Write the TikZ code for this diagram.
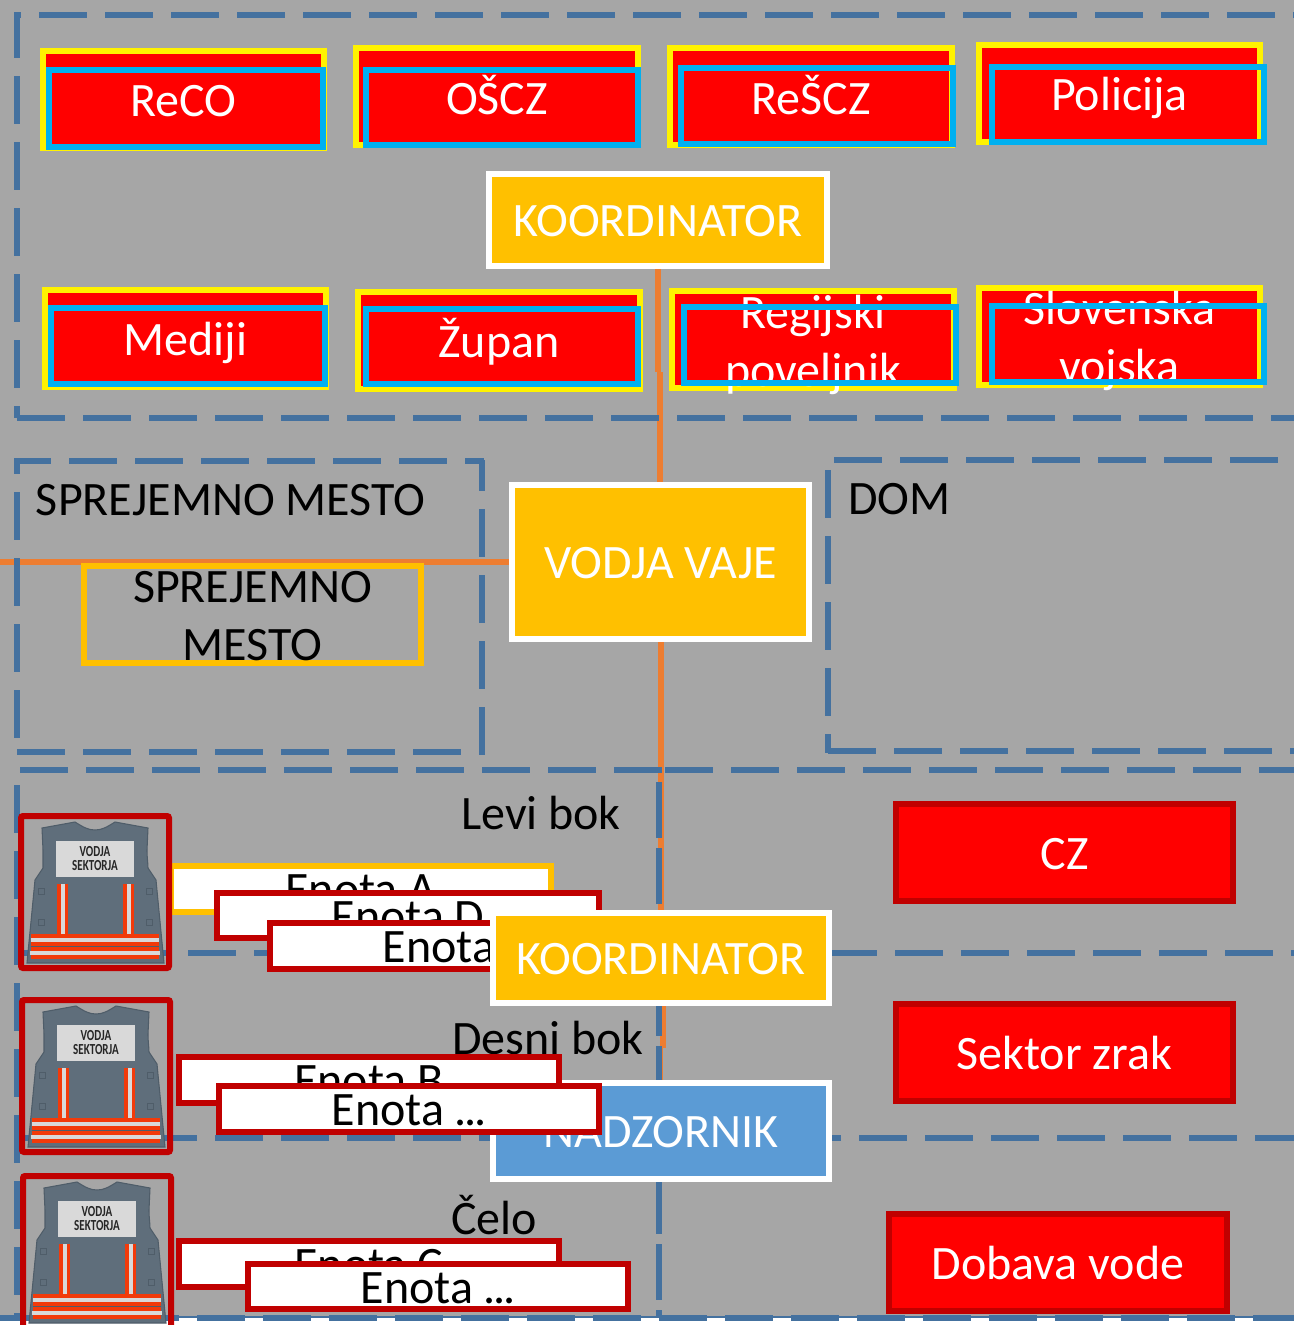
\documentclass[tikz,border=0pt]{standalone}
\usepackage{fontspec}
\setmainfont{Carlito}
\pgfdeclarelayer{back}
\pgfsetlayers{back,main}
\definecolor{bgc}{HTML}{A6A6A6}
\definecolor{dashc}{HTML}{44719F}
\definecolor{linec}{HTML}{ED7D31}
\definecolor{amber}{HTML}{FFC000}
\definecolor{sky}{HTML}{00B0F0}
\definecolor{dkred}{HTML}{C00000}
\definecolor{nadz}{HTML}{5B9BD5}
\definecolor{vestc}{HTML}{5F6E7B}
\definecolor{vestl}{HTML}{4F5D69}
\definecolor{silver}{HTML}{D9D9D9}
\definecolor{strip}{HTML}{F23A0A}
\newcommand{\st}{\vrule height 28pt depth 3pt width 0pt\relax}
\newcommand{\sd}{\vrule height 34pt depth 9pt width 0pt\relax}
\newcommand{\lbl}{\fontsize{36}{43.5}\selectfont}
\newcommand{\edots}{.\kern-1.9pt.\kern-1.9pt.}
% name, style, x1, y1, x2, y2 (outer edges, pixels), text
\newcommand{\bx}[7]{\node[#2, minimum width={(#5-#3-6)*0.75pt}, minimum height={(#6-#4-6)*0.75pt}] (#1) at ({(#3+#5)/2},{(#4+#6)/2}) {#7};}
\tikzset{
  x=0.75pt, y=-0.75pt,
  base/.style={inner sep=0pt, outer sep=0pt, line width=4.5pt, align=center, font=\lbl},
  yred/.style={base, draw=yellow, fill=red, text=white},
  blueline/.style={base, draw=sky},
  amberbox/.style={base, draw=white, fill=amber, text=white},
  nadzbox/.style={base, draw=white, fill=nadz, text=white},
  redbox/.style={base, draw=dkred, fill=red, text=white},
  enota/.style={base, draw=dkred, fill=white, text=black},
  enotaa/.style={base, draw=amber, fill=white, text=black},
  framebox/.style={base, draw=dkred, rounded corners=1.5pt},
  sprej/.style={base, draw=amber, text=black},
  lab/.style={inner sep=0pt, outer sep=0pt, font=\lbl, text=black, align=center},
  wlab/.style={lab, text=white},
  zone/.style={draw=dashc, line width=4.5pt, dash pattern=on 36pt off 13.5pt},
  zonev/.style={draw=dashc, line width=4.5pt, dash pattern=on 42pt off 7.5pt},
  conn/.style={draw=linec, line width=4.5pt},
  vest/.pic={
    \fill[vestc,draw=vestl,line width=0.8pt] (57,9) .. controls (65,14) and (70,17) .. (77,17) .. controls (84,17) and (89,14) .. (97,9) -- (130,15) -- (129,37) .. controls (129,45) and (130,50) .. (130,55) -- (138,67) -- (146,150) -- (9,150) -- (17,67) -- (25,55) .. controls (25,50) and (25,45) .. (25,37) -- (24,15) -- cycle;
    \fill[silver] (38,28) rectangle (116,64);
    \node[inner sep=0pt,font={\fontsize{11.5}{10.5}\selectfont\bfseries},align=center,text=black!85,xscale=0.72] at (77,46) {VODJA\\SEKTORJA};
    \foreach \a in {39,105} {
      \fill[strip] (\a,71) rectangle ++(11,51);
      \fill[silver] (\a+3.5,71) rectangle ++(4,51);
    }
    \foreach \a in {23,131} \foreach \b in {78,109}
      \draw[vestl,line width=0.5pt] (\a-3,\b-3) rectangle ++(6,6);
    \fill[strip] (13,121) rectangle (141,146);
    \fill[silver] (13,125) rectangle (141,129);
    \fill[vestl] (13,133) rectangle (141,134);
    \fill[silver] (12,138) rectangle (142,142);
  }
}
\begin{document}
\begin{tikzpicture}
\useasboundingbox (0,0) rectangle (1294,1325);
% top row
\bx{reco}{yred}{40}{48}{327}{151}{\st ReCO}
\bx{oscz}{yred}{353}{45}{641}{148}{\st OŠCZ}
\bx{rescz}{yred}{667}{45}{955}{148}{\st ReŠCZ}
\bx{pol}{yred}{976}{42}{1263}{145}{\sd Policija}
\bx{med}{yred}{42}{287}{329}{390}{\sd Mediji}
\bx{zup}{yred}{355}{289}{643}{392}{\sd Župan}
\bx{reg}{yred}{669}{288}{957}{391}{}
\bx{voj}{yred}{976}{285}{1263}{388}{}
\node[wlab] (regt) at (813,342.5) {\st Regijski\\\st poveljnik};
\node[wlab] (vojt) at (1119.5,339) {\st Slovenska\\\st vojska};
\bx{recob}{blueline}{46}{67}{326}{150}{}
\bx{osczb}{blueline}{363}{67}{641}{148}{}
\bx{resczb}{blueline}{678}{65}{956}{147}{}
\bx{polb}{blueline}{989}{64}{1267}{145}{}
\bx{medb}{blueline}{48}{305}{328}{387}{}
\bx{zupb}{blueline}{363}{306}{641}{387}{}
\bx{regb}{blueline}{681}{304}{959}{386}{}
\bx{vojb}{blueline}{989}{303}{1267}{385}{}
% main boxes
\bx{k1}{amberbox}{486}{171}{830}{269}{\st KOORDINATOR}
\bx{vv}{amberbox}{509}{482}{812}{642}{\st VODJA VAJE}
% reception
\node[lab, anchor=base west] (sm) at (36,515) {SPREJEMNO MESTO};
\bx{sm2}{sprej}{81}{563}{424}{666}{}
\node[lab] (sm2t) at (252.5,615) {\st SPREJEMNO\\\st MESTO};
\node[lab, anchor=base west] (dom) at (848,514) {DOM};
% right boxes
\bx{cz}{redbox}{893}{801}{1236}{904}{\st CZ}
\bx{sz}{redbox}{893}{1001}{1236}{1104}{\st Sektor zrak}
\bx{dv}{redbox}{886}{1211}{1230}{1314}{\st Dobava vode}
% labels
\node[lab] (levi) at (541,813) {\st Levi bok};
\node[lab] (desni) at (548,1038) {\st Desni bok};
\node[lab] (celo) at (494,1217) {\st Čelo};
% units
\bx{ea}{enotaa}{168}{863}{554}{915}{\st Enota A}
\bx{f1}{framebox}{18}{813}{172}{971}{}
\pic at (18,813) {vest};
\bx{ed}{enota}{214}{890}{602}{941}{\st Enota D}
\bx{e1}{enota}{267}{920}{653}{972}{\st Enota \edots}
\bx{k2}{amberbox}{490}{910}{832}{1006}{\st KOORDINATOR}
\bx{nad}{nadzbox}{490}{1080}{832}{1182}{\st NADZORNIK}
\bx{eb}{enota}{176}{1054}{562}{1106}{\st Enota B}
\bx{f2}{framebox}{19}{997}{173}{1155}{}
\pic at (19,997) {vest};
\bx{e2}{enota}{216}{1083}{602}{1135}{\st Enota \edots}
\bx{ec}{enota}{176}{1238}{562}{1290}{\st Enota C}
\bx{e3}{enota}{245}{1261}{631}{1312}{\st Enota \edots}
\pic at (20,1173) {vest};
\bx{f3}{framebox}{20}{1173}{174}{1335}{}
% everything behind the boxes
\begin{pgfonlayer}{back}
\fill[bgc] (0,0) rectangle (1294,1317);
\fill[white] (0,1317) rectangle (1294,1325);
\fill[dashc] (0,1316) rectangle (1294,1318);
% connectors
\coordinate (a1) at (658,372);
\coordinate (a2) at (660,372);
\coordinate (west) at (0,562);
\coordinate (b1) at (661,800);
\coordinate (c1) at (663,1048);
\coordinate (c2) at (660,1048);
\draw[conn] (k1.south -| a1) -- (a1);
\draw[conn] (a2) -- (vv.north -| a2);
\draw[conn] (vv.west |- west) -- (west);
\draw[conn] (vv.south -| b1) -- (k2.north -| b1);
\draw[conn] (k2.south -| c1) -- (c1);
\draw[conn] (c2) -- (nad.north -| c2);
% dashed zones
\draw[zone, dash phase=3.75pt] (16.5,15) -- (16.5,418);
\draw[zone, dash phase=30.75pt] (14,14.5) -- (1294,14.5);
\draw[zone] (17,418) -- (1294,418);
\draw[zone, dash phase=8.25pt] (14,460.5) -- (484,460.5);
\draw[zone, dash phase=25.5pt] (16.5,460) -- (16.5,752);
\draw[zone, dash phase=12.75pt] (482,460) -- (482,755);
\draw[zone] (17,752) -- (484,752);
\draw[zone] (834,459.5) -- (1294,459.5);
\draw[zone] (827.5,470) -- (827.5,753);
\draw[zone] (828,750.5) -- (1294,750.5);
\draw[zone] (20,770) -- (662,770);
\draw[zone] (665,770) -- (1294,770);
\draw[zone] (16.5,785) -- (16.5,1318);
\draw[zonev] (659,782) -- (659,1318);
\draw[zone, dash phase=20.25pt] (17,953) -- (490,953);
\draw[zone] (829,953) -- (1294,953);
\draw[zone] (17,1138) -- (490,1138);
\draw[zone] (793,1138) -- (1294,1138);
\draw[zone, dash phase=0.75pt] (0,1318) -- (1294,1318);
\end{pgfonlayer}
\end{tikzpicture}
\end{document}
